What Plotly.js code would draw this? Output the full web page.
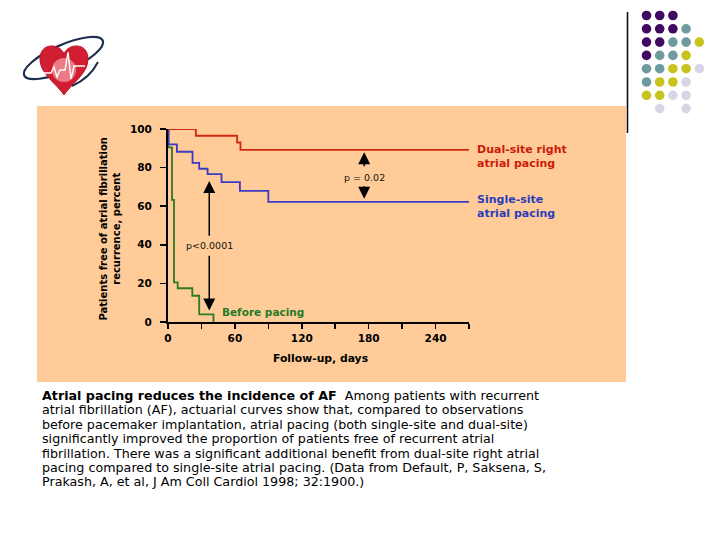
<!DOCTYPE html>
<html><head><meta charset="utf-8">
<script src="https://cdn.plot.ly/plotly-3.0.1.min.js"></script>
<style>html,body{margin:0;padding:0;background:#fff;}#chart{width:720px;height:540px;}</style>
</head><body><div id="chart"></div>
<script>
// ---- data ----
const dualDays   = [0, 25, 62, 65, 270];
const dualPct    = [100, 96.5, 93, 89.2, 89.2];
const singleDays = [0, 0.5, 8, 22, 28, 35.5, 48, 64.5, 90, 270];
const singlePct  = [100, 92, 88.2, 82.4, 79.4, 76.6, 72.5, 67.9, 62.2, 62.2];
const beforeDays = [0, 0.3, 3.6, 5.4, 8.7, 21.8, 28, 40.8];
const beforePct  = [100, 90.5, 63.3, 20.5, 17.5, 13.6, 3.9, 0];

const xTickVals = [0, 30, 60, 90, 120, 150, 180, 210, 240, 270];
const xTickText = ['0', '', '60', '', '120', '', '180', '', '240', ''];
const yTickVals = [0, 20, 40, 60, 80, 100];
const yTickText = ['0', '20', '40', '60', '80', '100'];

const seriesNames = ['Dual-site right atrial pacing', 'Single-site atrial pacing', 'Before pacing'];
const seriesLabels = ['Dual-site right<br>atrial pacing', 'Single-site<br>atrial pacing', 'Before pacing'];
const pLabels = ['p<0.0001', 'p = 0.02'];
const xTitle = 'Follow-up, days';
const yTitle = 'Patients free of atrial fibrillation<br>recurrence, percent';
const captionLines = [
  '<b>Atrial pacing reduces the incidence of AF</b>  Among patients with recurrent',
  'atrial fibrillation (AF), actuarial curves show that, compared to observations',
  'before pacemaker implantation, atrial pacing (both single-site and dual-site)',
  'significantly improved the proportion of patients free of recurrent atrial',
  'fibrillation. There was a significant additional benefit from dual-site right atrial',
  'pacing compared to single-site atrial pacing. (Data from Default, P, Saksena, S,',
  'Prakash, A, et al, J Am Coll Cardiol 1998; 32:1900.)'
];
const dotRows = ['PPP', 'PPPT', 'PPTTY', 'PTTY', 'TTYYL', 'TYYL', 'YYLL', '.L.L'];

// ---- styling ----
const PANEL = '#FFCC99';
const RED = '#D02810', BLUE = '#3A3AC2', GREEN = '#2E7A22';
const RED_T = '#CC1A0A', BLUE_T = '#2B3DB8', GREEN_T = '#277A25';
const dotColor = {P: '#3F0A62', T: '#6E9C9E', Y: '#C8C41E', L: '#D6D6E6'};

const M = {l: 168, r: 251, t: 129, b: 218};
const W = 720, H = 540;
const PW = W - M.l - M.r, PH = H - M.t - M.b;
const px = p => (p - M.l) / PW;
const py = p => (H - M.b - p) / PH;

function pathFrom(cmds) {
  return cmds.map(c => c[0] + ' ' + c.slice(1).map(pt => px(pt[0]).toFixed(5) + ',' + py(pt[1]).toFixed(5)).join(' ')).join(' ') + ' Z';
}
function ellipseCmds(cx, cy, a, b, deg) {
  const t = deg * Math.PI / 180, c = Math.cos(t), s = Math.sin(t), k = 0.5523;
  const P = (u, v) => [cx + u * c - v * s, cy + u * s + v * c];
  return [['M', P(a, 0)],
    ['C', P(a, k * b), P(k * a, b), P(0, b)],
    ['C', P(-k * a, b), P(-a, k * b), P(-a, 0)],
    ['C', P(-a, -k * b), P(-k * a, -b), P(0, -b)],
    ['C', P(k * a, -b), P(a, -k * b), P(a, 0)]];
}

const shapes = [];
// peach panel
shapes.push({type: 'rect', xref: 'paper', yref: 'paper', x0: px(37), x1: px(626), y0: py(382), y1: py(106),
  fillcolor: PANEL, line: {width: 0}, layer: 'below'});
// vertical rule
shapes.push({type: 'line', xref: 'paper', yref: 'paper', x0: px(627.5), x1: px(627.5), y0: py(12), y1: py(133),
  line: {color: '#111', width: 1.6}});
// dot grid
dotRows.forEach((row, r) => {
  row.split('').forEach((ch, c) => {
    if (!dotColor[ch]) return;
    const cx = 646.5 + c * 13.2, cy = 15.5 + r * 13.3, rad = 4.8;
    shapes.push({type: 'circle', xref: 'paper', yref: 'paper', x0: px(cx - rad), x1: px(cx + rad),
      y0: py(cy + rad), y1: py(cy - rad), fillcolor: dotColor[ch], line: {width: 0}});
  });
});
// logo: ring, heart, glow, ecg, front ring segment
shapes.push({type: 'path', xref: 'paper', yref: 'paper', path: pathFrom(ellipseCmds(63.5, 58, 43, 13, -24)),
  line: {color: '#1E2E4E', width: 2.2}, fillcolor: 'rgba(0,0,0,0)'});
const heart = [['M', [64, 54]], ['C', [60, 43], [40, 42], [40, 59]], ['C', [40, 74], [57, 84], [64, 95]],
  ['C', [71, 84], [88, 74], [88, 59]], ['C', [88, 42], [68, 43], [64, 54]]];
shapes.push({type: 'path', xref: 'paper', yref: 'paper', path: pathFrom(heart), fillcolor: '#D21E32', line: {color: '#B81428', width: 1}});
shapes.push({type: 'circle', xref: 'paper', yref: 'paper', x0: px(52), x1: px(76), y0: py(82), y1: py(58),
  fillcolor: 'rgba(255,200,205,0.55)', line: {width: 0}});
shapes.push({type: 'path', xref: 'paper', yref: 'paper',
  path: 'M ' + [[43, 73], [51, 73], [54, 67], [57, 77], [60, 70], [65, 70], [68, 52], [71, 79], [74, 66], [85, 66]]
    .map(p => px(p[0]).toFixed(5) + ',' + py(p[1]).toFixed(5)).join(' L '),
  line: {color: '#FFFFFF', width: 1.4}});
shapes.push({type: 'path', xref: 'paper', yref: 'paper',
  path: 'M ' + px(72).toFixed(5) + ',' + py(86).toFixed(5) + ' Q ' + px(90).toFixed(5) + ',' + py(78).toFixed(5) + ' ' + px(98).toFixed(5) + ',' + py(62).toFixed(5),
  line: {color: '#1E2E4E', width: 2}});

const tickFont = {family: 'DejaVu Sans', size: 10.5, weight: 'bold', color: '#000'};
const lblFont = (col, sz) => ({family: 'DejaVu Sans', size: sz, weight: 'bold', color: col});

const arrowBase = {xref: 'x', yref: 'y', axref: 'x', ayref: 'y', showarrow: true, arrowhead: 2,
  arrowsize: 1.6, arrowwidth: 1.5, arrowcolor: '#000', standoff: 0, startstandoff: 0};

const annotations = [
  Object.assign({x: 37, y: 73, ax: 37, ay: 39.5}, arrowBase),
  Object.assign({x: 37, y: 6, ax: 37, ay: 39.5}, arrowBase),
  Object.assign({x: 176, y: 88, ax: 176, ay: 75.5}, arrowBase),
  Object.assign({x: 176, y: 63.8, ax: 176, ay: 75.5}, arrowBase),
  {x: 37, y: 39.5, xref: 'x', yref: 'y', text: pLabels[0], showarrow: false, bgcolor: PANEL, borderpad: 1,
    font: {family: 'DejaVu Sans', size: 9.5, color: '#111'}},
  {x: 176.5, y: 74.8, xref: 'x', yref: 'y', text: pLabels[1], showarrow: false, bgcolor: PANEL, borderpad: 1,
    font: {family: 'DejaVu Sans', size: 9.5, color: '#111'}},
  {x: px(475), y: py(156), xref: 'paper', yref: 'paper', text: seriesLabels[0], showarrow: false,
    xanchor: 'left', yanchor: 'middle', align: 'left', font: lblFont(RED_T, 11)},
  {x: px(475), y: py(206.5), xref: 'paper', yref: 'paper', text: seriesLabels[1], showarrow: false,
    xanchor: 'left', yanchor: 'middle', align: 'left', font: lblFont(BLUE_T, 11)},
  {x: 46.6, y: 5.3, xref: 'x', yref: 'y', text: seriesLabels[2], showarrow: false, xanchor: 'left',
    font: lblFont(GREEN_T, 10.5)},
  {x: px(320), y: py(358), xref: 'paper', yref: 'paper', text: xTitle, showarrow: false,
    xanchor: 'center', yanchor: 'middle',
    font: {family: 'DejaVu Sans', size: 10.8, weight: 'bold', color: '#000'}},
  {x: px(109.5), y: py(229), xref: 'paper', yref: 'paper', text: yTitle, showarrow: false, textangle: -90,
    xanchor: 'center', yanchor: 'middle',
    font: {family: 'DejaVu Sans', size: 10, weight: 'bold', color: '#000'}}
];
captionLines.forEach((line, i) => {
  annotations.push({x: px(40), y: py(395 + i * 14.5), xref: 'paper', yref: 'paper', text: line, showarrow: false,
    xanchor: 'left', yanchor: 'middle', align: 'left',
    font: {family: 'DejaVu Sans', size: 12.7, color: '#000'}});
});

const traces = [
  {x: beforeDays, y: beforePct, name: seriesNames[2], mode: 'lines', line: {shape: 'hv', color: GREEN, width: 1.8}},
  {x: singleDays, y: singlePct, name: seriesNames[1], mode: 'lines', line: {shape: 'hv', color: BLUE, width: 1.8}},
  {x: dualDays, y: dualPct, name: seriesNames[0], mode: 'lines', line: {shape: 'hv', color: RED, width: 1.8}}
];

const layout = {
  width: W, height: H, margin: M,
  paper_bgcolor: '#FFFFFF', plot_bgcolor: 'rgba(0,0,0,0)',
  showlegend: false,
  xaxis: {range: [0, 270], tickmode: 'array', tickvals: xTickVals, ticktext: xTickText,
    ticks: 'outside', ticklen: 5, tickwidth: 1.5, tickcolor: '#000',
    showline: true, linecolor: '#000', linewidth: 2, showgrid: false, zeroline: false,
    tickfont: tickFont, fixedrange: true},
  yaxis: {range: [0, 100], tickmode: 'array', tickvals: yTickVals, ticktext: yTickText,
    ticks: 'outside', ticklen: 6, tickwidth: 1.5, tickcolor: '#000', ticklabelstandoff: 6,
    showline: true, linecolor: '#000', linewidth: 2, showgrid: false, zeroline: false,
    tickfont: tickFont, fixedrange: true},
  shapes: shapes,
  annotations: annotations
};

Plotly.newPlot('chart', traces, layout, {displayModeBar: false, staticPlot: true});
</script>
</body></html>
